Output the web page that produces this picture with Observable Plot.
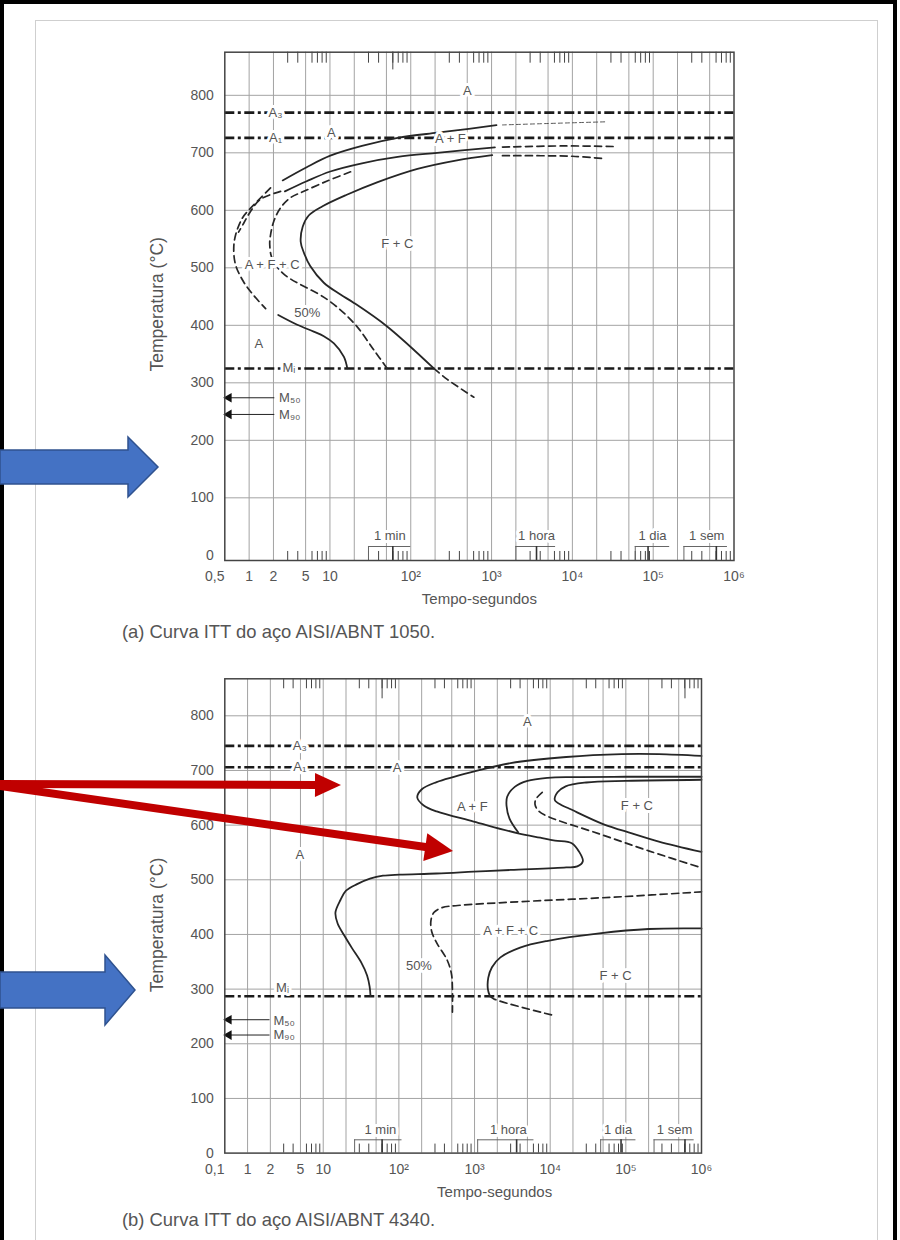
<!DOCTYPE html>
<html lang="pt">
<head>
<meta charset="utf-8">
<title>Curvas ITT</title>
<script src="https://cdn.jsdelivr.net/npm/d3@7"></script>
<script src="https://cdn.jsdelivr.net/npm/@observablehq/plot@0.6"></script>
<style>
  html,body{margin:0;padding:0;background:#fff;}
  #page{position:relative;width:900px;height:1240px;overflow:hidden;background:#fff;font-family:"Liberation Sans",Arial,Helvetica,sans-serif;}
  #outer{position:absolute;left:0;top:0;width:897px;height:1270px;border:4px solid #000;box-sizing:border-box;}
  #sheet{position:absolute;left:35px;top:20px;width:843px;height:1260px;border:1px solid #cfcfcf;box-sizing:border-box;}
  .chart{position:absolute;left:0;}
  .caption{position:absolute;left:122px;font-size:18.4px;line-height:20px;color:#555;white-space:nowrap;}
  #annot{position:absolute;left:0;top:0;z-index:5;}
</style>
</head>
<body>
<div id="page">
  <div id="outer"></div>
  <div id="sheet"></div>
  <div id="chartA" class="chart" style="top:0px"></div>
  <div class="caption" style="top:622px">(a) Curva ITT do aço AISI/ABNT 1050.</div>
  <div id="chartB" class="chart" style="top:620px"></div>
  <div class="caption" style="top:1210px">(b) Curva ITT do aço AISI/ABNT 4340.</div>
  <svg id="annot" width="900" height="1240"></svg>
</div>
<script>
// ================= shared axis data =================
const timeGridValues = [1,2,5,10,20,50,100,200,500,1000,2000,5000,1e4,2e4,5e4,1e5,2e5,5e5];
const timeTickValues = [1,2,5,10,100,1000,1e4,1e5,1e6];
const timeTickLabels = ["1","2","5","10","10²","10³","10⁴","10⁵","10⁶"];
const minorTimeTicks = [3,4,6,7,8,9,30,40,60,70,80,90,300,400,600,700,800,900,3000,4000,6000,7000,8000,9000,30000,40000,60000,70000,80000,90000,300000,400000,600000,700000,800000,900000];
const tempTickValues = [0,100,200,300,400,500,600,700,800];
const tempGridValues = [100,200,300,400,500,600,700,800];
const xTitle = "Tempo-segundos";
const yTitle = "Temperatura (°C)";

// ================= (a) AISI/ABNT 1050 =================
const firstTickLabel1050 = "0,5";
const brackets1050 = [
  {label:"1 min",  from:30,     to:100,    mark:60,     at:55},
  {label:"1 hora", from:2000,   to:6200,   mark:3600,   at:3600},
  {label:"1 dia",  from:60000,  to:160000, mark:86400,  at:98000},
  {label:"1 sem",  from:240000, to:830000, mark:604800, at:460000}
];
const topTall1050 = [60];
const critical1050 = [{name:"A3", T:770}, {name:"A1", T:726}, {name:"Mi", T:325}];
const mArrows1050 = [{name:"M50", from:2.05, T:274}, {name:"M90", from:2.05, T:245}];
const mLabels1050 = [{t:2.35, T:274, text:"M₅₀"}, {t:2.35, T:245, text:"M₉₀"}];
const labels1050 = [
  {t:500,  T:808, text:"A"},
  {t:2.12, T:770, text:"A₃"},
  {t:2.12, T:726, text:"A₁"},
  {t:10.4, T:735, text:"A"},
  {t:310,  T:725, text:"A + F"},
  {t:68,   T:541, text:"F + C"},
  {t:1.93, T:505, text:"A + F + C"},
  {t:5.24, T:421, text:"50%"},
  {t:1.32, T:367, text:"A"},
  {t:3.1,  T:326, text:"Mᵢ"}
];
const c1050StartUpper    = [[2.6,652],[5.15,675],[10.1,695],[24.9,712],[68.9,726],[212,735],[523,741.6],[1150,748]];
const c1050StartUpperExt = [[1365,748.5],[5000,751],[27000,754]];
const c1050StartMid      = [[2.77,633],[5.15,650.6],[10.1,667.5],[24.9,681.8],[68.9,692.8],[212,700],[1100,709.5]];
const c1050StartMidExt   = [[1365,710],[8000,712],[33000,711]];
const c1050Finish        = [[1019,696],[373,687],[121,672],[39,649],[15.9,626.6],[8.1,607],[5.46,591],[4.6,571.4],[4.35,545],[4.75,526.7],[5.7,503],[8.4,474],[13.5,453.5],[19.8,439],[51,398],[193,325]];
const c1050FinishLowExt  = [[193,325],[283,306],[604,275]];
const c1050FinishTopExt  = [[1365,695],[10000,694],[25600,689.6]];
const c1050DashOuter     = [[1.84,639],[1.35,620],[1.0,601],[0.82,586],[0.68,557],[0.645,534],[0.68,505],[0.86,475],[1.14,452],[1.6,429]];
const c1050DashInner     = [[2.45,633],[1.38,619],[1.04,598],[0.86,578],[0.74,562]];
const c1050DashMid       = [[18,667],[9.25,651],[4.75,633],[3.25,622],[2.44,604],[2.02,581],[1.84,557],[1.8,540],[1.93,516],[2.69,489],[9.25,445],[19.8,404],[35,357],[51,325]];
const c1050Half          = [[2.29,418],[3.94,401],[6.3,389],[8.4,381],[11.2,368.5],[14.9,345],[16.4,325]];

// ================= (b) AISI/ABNT 4340 =================
const firstTickLabel4340 = "0,1";
const brackets4340 = [
  {label:"1 min",  from:26,     to:110,    mark:60,     at:57},
  {label:"1 hora", from:1100,   to:6100,   mark:3600,   at:2800},
  {label:"1 dia",  from:46500,  to:136000, mark:86400,  at:79000},
  {label:"1 sem",  from:236000, to:800000, mark:604800, at:440000}
];
const topTall4340 = [60, 604800];
const critical4340 = [{name:"A3", T:745}, {name:"A1", T:706}, {name:"Mi", T:287}];
const mArrows4340 = [{name:"M50", from:1.95, T:244}, {name:"M90", from:1.95, T:216}];
const mLabels4340 = [{t:2.2, T:242, text:"M₅₀"}, {t:2.2, T:216, text:"M₉₀"}];
const labels4340 = [
  {t:5000,   T:789, text:"A"},
  {t:4.9,    T:745, text:"A₃"},
  {t:4.9,    T:706, text:"A₁"},
  {t:95,     T:705, text:"A"},
  {t:935,    T:634, text:"A + F"},
  {t:140000, T:636, text:"F + C"},
  {t:4.9,    T:545, text:"A"},
  {t:3000,   T:407, text:"A + F + C"},
  {t:184,    T:343, text:"50%"},
  {t:73000,  T:325, text:"F + C"},
  {t:2.9,    T:303, text:"Mᵢ"}
];
const c4340Outer    = [[1e6,726.6],[273000,729.8],[88000,729.8],[16300,724.6],[3000,713.4],[973,698],[315,678.7],[201,665.6],[175,650.5],[213,636],[316,625],[974,606.6],[3770,585],[7400,577],[11600,571.8],[19300,567],[24200,551],[27000,534],[22800,524.6],[16300,522.6],[3000,518],[973,514.8],[315,511.5],[102,509.5],[61.5,507.5],[41.5,502],[28,492],[20,480],[16.9,463],[14.5,440],[15.5,420],[19,398],[24,375],[32,348],[38,325],[41,305],[42.2,287]];
const c4340Inner    = [[1e6,688.5],[1e5,688.5],[20000,688],[9270,686.6],[5000,681],[3400,670],[2700,652],[2650,635],[2900,612],[3770,587]];
const c4340FCUpper  = [[1e6,683],[1e5,681],[30000,678],[16000,671],[12500,660],[11500,646],[14000,637],[18000,630],[50000,602],[120000,585],[273000,570],[1e6,551]];
const c4340DashUp   = [[7850,660],[6500,648],[6300,638],[7000,626],[9270,616],[44600,584],[200000,553],[1e6,522]];
const c4340Half     = [[1e6,478],[88000,469],[3000,459],[600,453],[370,449],[290,440],[265,425],[272,405],[315,385],[435,353],[495,328],[510,300],[510,258]];
const c4340FCLower  = [[1e6,411],[200000,410],[44600,402],[9000,388],[4000,376],[2200,358],[1700,340],[1520,321],[1500,300],[1600,287]];
const c4340FCLowExt = [[1600,287],[1800,282],[11000,252]];

// ================= styles =================
const INK = "#262626";
const TXT = "#555";
const solid  = {stroke: INK, strokeWidth: 1.8};
const dashed = {stroke: INK, strokeWidth: 1.7, strokeDasharray: "7,4.5"};
const thin   = {stroke: "#444", strokeWidth: 0.9, strokeDasharray: "4,3"};

function drawChart(cfg) {
  const tickRows = timeTickValues.map((v, i) => ({v, label: timeTickLabels[i]}));
  const rows = pts => pts.map(([t, T]) => ({t, T}));
  const line = (pts, st) => Plot.line(rows(pts), {x: "t", y: "T", curve: "catmull-rom", ...st});
  const halo = {stroke: "white", strokeWidth: 6, fill: TXT, fontSize: 13};
  const base = () => cfg.yBottom;
  const yTop = cfg.yTop;
  return Plot.plot({
    width: 900,
    height: cfg.height,
    marginLeft: cfg.left,
    marginRight: 900 - cfg.right,
    marginTop: cfg.top,
    marginBottom: cfg.height - cfg.bottom,
    style: {background: "transparent", color: TXT, fontFamily: "'Liberation Sans', Arial, Helvetica, sans-serif", fontSize: "14px", overflow: "visible"},
    x: {type: "log", domain: [0.5, 1e6], label: null, axis: null},
    y: {domain: [cfg.yBottom, cfg.yTop], label: null},
    marks: [
      Plot.ruleX(timeGridValues, {stroke: "#a3a3a3", strokeWidth: 1}),
      Plot.ruleY(tempGridValues, {stroke: "#a3a3a3", strokeWidth: 1}),
      // minor ticks (bottom and top edges)
      Plot.ruleX(minorTimeTicks, {y1: base, y2: () => cfg.yBottom + cfg.tickDeg, stroke: "#444"}),
      Plot.ruleX(minorTimeTicks, {y1: () => yTop, y2: () => yTop - cfg.topTickDeg, stroke: "#444"}),
      Plot.ruleX(cfg.topTall, {y1: () => yTop, y2: () => yTop - cfg.topTallDeg, stroke: "#444"}),
      // time brackets
      Plot.ruleY(cfg.brackets, {y: base, x1: "from", x2: "to", dy: -cfg.bracketPx, stroke: "#666"}),
      Plot.ruleX(cfg.brackets, {x: "from", y1: base, y2: () => cfg.yBottom + cfg.bracketDeg, stroke: "#666"}),
      Plot.ruleX(cfg.brackets, {x: "mark", y1: base, y2: () => cfg.yBottom + cfg.bracketDeg, stroke: "#333", strokeWidth: 1.6}),
      // critical temperature lines
      Plot.ruleY(cfg.critical, {y: "T", stroke: "#1a1a1a", strokeWidth: 2.6, strokeDasharray: "10,3.5,3,3.5"}),
      // transformation curves
      ...cfg.curves.map(([pts, st]) => line(pts, st)),
      // martensite arrows
      Plot.link(cfg.mArrows, {x1: "from", x2: () => 0.5, y1: "T", y2: "T", stroke: "#222", strokeWidth: 1}),
      Plot.dot(cfg.mArrows, {x: () => 0.5, y: "T", symbol: "triangle", r: 3.6, fill: "#111", stroke: null, rotate: -90, dx: 4}),
      Plot.text(cfg.mLabels, {x: "t", y: "T", text: "text", textAnchor: "start", ...halo}),
      // region labels
      Plot.text(cfg.labels, {x: "t", y: "T", text: "text", ...halo}),
      Plot.text(cfg.brackets, {x: "at", y: base, text: "label", dy: -cfg.bracketLabelPx, ...halo}),
      Plot.frame({stroke: "#444", strokeWidth: 1.5}),
      // axes
      Plot.axisY(tempTickValues, {tickSize: 0, tickPadding: 11, label: null}),
      Plot.text(tickRows, {x: "v", text: "label", frameAnchor: "bottom", lineAnchor: "middle", dy: 16, fontSize: 14, fill: TXT}),
      Plot.text([cfg.firstTick], {x: () => 0.5, text: d => d, frameAnchor: "bottom", lineAnchor: "middle", dy: 16, dx: -10, fontSize: 14, fill: TXT}),
      Plot.text([xTitle], {text: d => d, frameAnchor: "bottom", textAnchor: "middle", lineAnchor: "middle", dy: 39, dx: cfg.xTitleDx, fontSize: 15, fill: TXT}),
      Plot.text([yTitle], {text: d => d, frameAnchor: "left", textAnchor: "middle", lineAnchor: "middle", dx: -67, dy: cfg.yTitleDy, rotate: -90, fontSize: 17.5, fill: TXT})
    ]
  });
}

const chartA = drawChart({
  height: 610, left: 224.3, right: 733.5, top: 51.7, bottom: 560,
  yBottom: -9, yTop: 875, tickDeg: 15.7, topTickDeg: 19.1, topTallDeg: 30.8,
  bracketDeg: 24.4, bracketPx: 14, bracketLabelPx: 25,
  brackets: brackets1050, topTall: topTall1050, critical: critical1050,
  mArrows: mArrows1050, mLabels: mLabels1050, labels: labels1050,
  firstTick: firstTickLabel1050, xTitleDx: 0, yTitleDy: -2,
  curves: [
    [c1050StartUpper, solid], [c1050StartUpperExt, thin],
    [c1050StartMid, solid], [c1050StartMidExt, dashed],
    [c1050Finish, solid], [c1050FinishLowExt, dashed], [c1050FinishTopExt, dashed],
    [c1050DashOuter, dashed], [c1050DashInner, dashed], [c1050DashMid, dashed],
    [c1050Half, solid]
  ]
});
document.getElementById("chartA").appendChild(chartA);

const chartB = drawChart({
  height: 583, left: 224.3, right: 701, top: 58.3, bottom: 532.6,
  yBottom: 0, yTop: 867.7, tickDeg: 16.5, topTickDeg: 18.3, topTallDeg: 36.6,
  bracketDeg: 24.3, bracketPx: 13.3, bracketLabelPx: 23.5,
  brackets: brackets4340, topTall: topTall4340, critical: critical4340,
  mArrows: mArrows4340, mLabels: mLabels4340, labels: labels4340,
  firstTick: firstTickLabel4340, xTitleDx: 31.5, yTitleDy: 9,
  curves: [
    [c4340Outer, solid], [c4340Inner, solid], [c4340FCUpper, solid],
    [c4340DashUp, dashed], [c4340Half, dashed],
    [c4340FCLower, solid], [c4340FCLowExt, dashed]
  ]
});
document.getElementById("chartB").appendChild(chartB);

// ================= annotation arrows drawn over the page =================
const annotationArrows = [
  {kind: "block", fill: "#4472C4", edge: "#2F528F", pts: [[0,450],[128,450],[128,437],[158,467],[128,497],[128,484],[0,484]]},
  {kind: "block", fill: "#4472C4", edge: "#2F528F", pts: [[0,972],[105,972],[105,955],[135,990],[105,1025],[105,1008],[0,1008]]},
  {kind: "line", color: "#C00000", from: [0,784], to: [341,785], width: 8, head: 26, half: 12},
  {kind: "line", color: "#C00000", from: [0,786], to: [453,851], width: 8, head: 28, half: 14}
];
const annot = d3.select("#annot");
for (const a of annotationArrows) {
  if (a.kind === "block") {
    annot.append("polygon").attr("points", a.pts.map(p => p.join(",")).join(" "))
      .attr("fill", a.fill).attr("stroke", a.edge).attr("stroke-width", 1.5);
  } else {
    const [x0, y0] = a.from, [x1, y1] = a.to;
    const L = Math.hypot(x1 - x0, y1 - y0), ux = (x1 - x0) / L, uy = (y1 - y0) / L;
    const bx = x1 - ux * a.head, by = y1 - uy * a.head;
    annot.append("line").attr("x1", x0).attr("y1", y0).attr("x2", bx + ux * 2).attr("y2", by + uy * 2)
      .attr("stroke", a.color).attr("stroke-width", a.width);
    annot.append("polygon")
      .attr("points", [[x1, y1], [bx - uy * a.half, by + ux * a.half], [bx + uy * a.half, by - ux * a.half]].map(p => p.join(",")).join(" "))
      .attr("fill", a.color);
  }
}
</script>
</body>
</html>
